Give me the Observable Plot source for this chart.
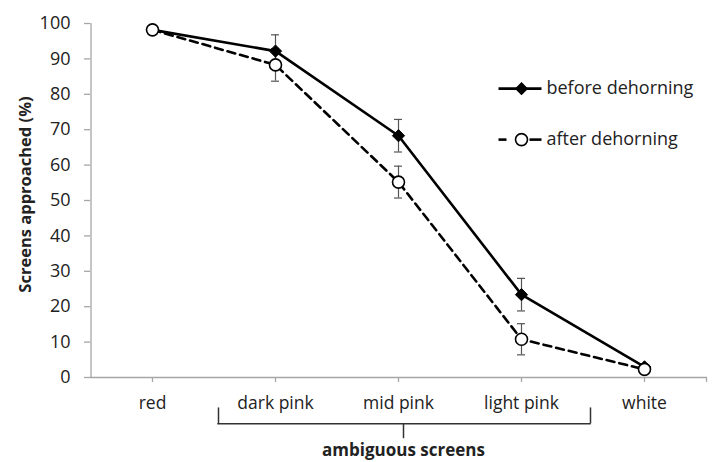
<!DOCTYPE html>
<html><head><meta charset="utf-8">
<script src="https://cdn.jsdelivr.net/npm/d3@7"></script>
<script src="https://cdn.jsdelivr.net/npm/@observablehq/plot@0.6"></script>
<style>body{margin:0;background:#fff}</style>
</head><body><div id="chart"></div>
<script>
const categories = ["red", "dark pink", "mid pink", "light pink", "white"];
const series = ["before dehorning", "after dehorning"];
const beforeValues = [98.2, 92.2, 68.3, 23.4, 3.0];
const afterValues = [98.2, 88.3, 55.2, 10.8, 2.3];
const beforeErr = [0, 4.6, 4.6, 4.6, 0];
const afterErr = [0, 4.6, 4.5, 4.4, 0];
const yTicks = [0, 10, 20, 30, 40, 50, 60, 70, 80, 90, 100];
const groupLabel = "ambiguous screens";
const yLabel = "Screens approached (%)";

const rows = [];
categories.forEach((c, i) => {
  rows.push({cat: c, series: series[0], v: beforeValues[i], e: beforeErr[i]});
  rows.push({cat: c, series: series[1], v: afterValues[i], e: afterErr[i]});
});
const before = rows.filter(d => d.series === series[0]);
const after = rows.filter(d => d.series === series[1]);
const errRows = rows.filter(d => d.e > 0);

const font = "'Open Sans', sans-serif";
const gray = "#a6a6a6";
const textColor = "#222";

const chart = Plot.plot({
  width: 714, height: 462,
  marginLeft: 90, marginRight: 9, marginTop: 23, marginBottom: 85,
  style: {fontFamily: font, background: "#fff"},
  x: {type: "point", domain: categories, padding: 0.5},
  y: {domain: [0, 100]},
  marks: [
    // axes
    Plot.ruleX(["red"], {x: d => d, dx: -61.5, y1: 0, y2: 100, stroke: gray, strokeWidth: 1.3}),
    Plot.ruleY([0], {stroke: gray, strokeWidth: 1.3, insetRight: -2}),
    Plot.axisY({ticks: yTicks, tickSize: 6, tickPadding: 14, fontSize: 18, color: textColor, stroke: gray, strokeWidth: 1.3, label: null, tickFormat: d => d}),
    Plot.axisX({tickSize: 5, tickPadding: 14, fontSize: 17.5, color: textColor, stroke: gray, strokeWidth: 1.3, label: null}),
    Plot.ruleX(["white"], {x: d => d, dx: 62, y1: 0, y2: -1.4, stroke: gray, strokeWidth: 1.3}),
    // bracket
    Plot.ruleX(["dark pink"], {x: d => d, dx: -57, y1: -8.6, y2: -13.1, stroke: "#333", strokeWidth: 1.5}),
    Plot.ruleX(["light pink"], {x: d => d, dx: 69, y1: -8.6, y2: -13.1, stroke: "#333", strokeWidth: 1.5}),
    Plot.ruleY([-13.1], {y: d => d, x1: () => "dark pink", x2: () => "light pink", insetLeft: -57.75, insetRight: -69.75, stroke: "#333", strokeWidth: 1.5}),
    Plot.ruleX(["mid pink"], {x: d => d, dx: 5, y1: -13.1, y2: -17.3, stroke: "#333", strokeWidth: 1.5}),
    Plot.text([groupLabel], {x: () => "mid pink", y: () => -20.6, dx: 5, text: d => d, fontWeight: "bold", fontSize: 17, fill: textColor}),
    Plot.text([yLabel], {frameAnchor: "left", textAnchor: "middle", dx: -65, dy: -6, rotate: -90, text: d => d, fontWeight: "bold", fontSize: 16.5, fill: textColor}),
    // error bars
    Plot.ruleX(errRows, {x: "cat", y1: d => d.v - d.e, y2: d => d.v + d.e, stroke: "#555", strokeWidth: 1.2}),
    Plot.ruleY(errRows, {x1: "cat", x2: "cat", y: d => d.v - d.e, insetLeft: -4, insetRight: -4, stroke: "#555", strokeWidth: 1.2}),
    Plot.ruleY(errRows, {x1: "cat", x2: "cat", y: d => d.v + d.e, insetLeft: -4, insetRight: -4, stroke: "#555", strokeWidth: 1.2}),
    // lines
    Plot.line(after, {x: "cat", y: "v", stroke: "#000", strokeWidth: 2.6, strokeDasharray: "8,5"}),
    Plot.line(before, {x: "cat", y: "v", stroke: "#000", strokeWidth: 2.6}),
    Plot.dot(before, {x: "cat", y: "v", symbol: "diamond2", r: 5.5, fill: "#000", stroke: "#000", strokeWidth: 1}),
    Plot.dot(after, {x: "cat", y: "v", symbol: "circle", r: 6, fill: "#fff", stroke: "#000", strokeWidth: 1.6}),
    // legend
    Plot.ruleY([series[0]], {y: () => 81.6, x1: () => "light pink", x2: () => "light pink", insetLeft: -22.5, insetRight: -20.5, stroke: "#000", strokeWidth: 2.6}),
    Plot.dot([series[0]], {x: () => "light pink", y: () => 81.6, symbol: "diamond2", r: 5, fill: "#000", stroke: "#000"}),
    Plot.text([series[0]], {x: () => "light pink", y: () => 81.6, dx: 25, text: d => d, textAnchor: "start", fontSize: 18, fill: textColor}),
    Plot.ruleY([series[1]], {y: () => 67.2, x1: () => "light pink", x2: () => "light pink", insetLeft: -22.5, insetRight: 14.5, stroke: "#000", strokeWidth: 2.6}),
    Plot.ruleY([series[1]], {y: () => 67.2, x1: () => "light pink", x2: () => "light pink", insetLeft: 8.5, insetRight: -20.5, stroke: "#000", strokeWidth: 2.6}),
    Plot.dot([series[1]], {x: () => "light pink", y: () => 67.2, symbol: "circle", r: 6, fill: "#fff", stroke: "#000", strokeWidth: 1.6}),
    Plot.text([series[1]], {x: () => "light pink", y: () => 67.2, dx: 25, text: d => d, textAnchor: "start", fontSize: 18, fill: textColor})
  ]
});
document.getElementById("chart").appendChild(chart);
</script></body></html>
